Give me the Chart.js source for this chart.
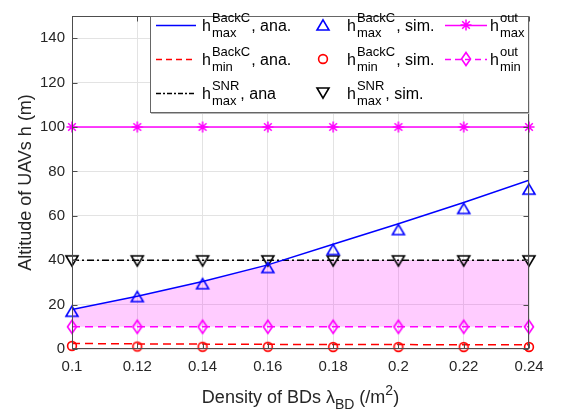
<!DOCTYPE html>
<html><head><meta charset="utf-8">
<script src="https://cdn.jsdelivr.net/npm/chart.js@4.4.0/dist/chart.umd.min.js"></script>
<style>html,body{margin:0;padding:0;background:#fff;}#wrap{width:562px;height:414px;}</style>
</head><body><div id="wrap"><canvas id="c" width="562" height="414"></canvas></div>
<script>
// ---- data ----
const xValues = [0.1, 0.12, 0.14, 0.16, 0.18, 0.2, 0.22, 0.24];
const xTickValues = [0.1, 0.12, 0.14, 0.16, 0.18, 0.2, 0.22, 0.24];
const xTickLabels = ['0.1', '0.12', '0.14', '0.16', '0.18', '0.2', '0.22', '0.24'];
const yTickValues = [0, 20, 40, 60, 80, 100, 120, 140];
const yTickLabels = ['0', '20', '40', '60', '80', '100', '120', '140'];
const backcMaxAna = [17.8, 23.8, 30.4, 37.9, 47.2, 56.4, 66.0, 76.0];
const backcMaxSim = [17.0, 23.6, 29.4, 36.7, 44.8, 53.8, 63.3, 72.0];
const backcMinAna = [2.5, 2.3, 2.2, 2.1, 2.0, 2.0, 1.9, 1.9];
const backcMinSim = [1.4, 1.1, 1.0, 1.0, 0.9, 0.9, 0.9, 0.9];
const snrMaxAna = [40, 40, 40, 40, 40, 40, 40, 40];
const snrMaxSim = [39.7, 39.7, 39.7, 39.7, 39.7, 39.7, 39.7, 39.7];
const outMax = [100, 100, 100, 100, 100, 100, 100, 100];
const outMin = [10, 10, 10, 10, 10, 10, 10, 10];
// upper edge of the shaded region
const fillTopX = [0.1, 0.12, 0.14, 0.16, 0.1645, 0.18, 0.2, 0.22, 0.24];
const fillTopY = [17.8, 23.8, 30.4, 37.9, 40, 40, 40, 40, 40];
const fillBase = 10;

const FONT = '"Liberation Sans", Arial, Helvetica, sans-serif';
const BLUE = '#0000ff', RED = '#ff0000', MAG = '#ff00ff', BLK = '#000000';
const AXIS = '#4d4d4d';
const DASH = [8, 5], DASHDOT = [7, 3, 2, 3];

function xy(xs, ys) { return xs.map((x, i) => ({x: x, y: ys[i]})); }

function mk(fn) {
  const c = document.createElement('canvas');
  c.width = 18; c.height = 18;
  const g = c.getContext('2d');
  g.lineWidth = 1.6; g.lineJoin = 'miter';
  fn(g); return c;
}
const triUp = col => mk(g => { g.strokeStyle = col; g.beginPath(); g.moveTo(9, 3.8); g.lineTo(15, 14); g.lineTo(3, 14); g.closePath(); g.stroke(); });
const triDown = col => mk(g => { g.strokeStyle = col; g.beginPath(); g.moveTo(3, 4); g.lineTo(15, 4); g.lineTo(9, 14.2); g.closePath(); g.stroke(); });
const circ = col => mk(g => { g.strokeStyle = col; g.beginPath(); g.arc(9, 9, 4.4, 0, Math.PI * 2); g.stroke(); });
const diam = col => mk(g => { g.strokeStyle = col; g.beginPath(); g.moveTo(9, 2.5); g.lineTo(13.5, 9); g.lineTo(9, 15.5); g.lineTo(4.5, 9); g.closePath(); g.stroke(); });
const star = col => mk(g => { g.strokeStyle = col; g.lineWidth = 1.5; g.beginPath();
  g.moveTo(9, 3.5); g.lineTo(9, 14.5); g.moveTo(3.5, 9); g.lineTo(14.5, 9);
  g.moveTo(5.2, 5.2); g.lineTo(12.8, 12.8); g.moveTo(12.8, 5.2); g.lineTo(5.2, 12.8); g.stroke(); });

const mTriUp = triUp(BLUE), mCirc = circ(RED), mTriDown = triDown(BLK), mStar = star(MAG), mDiam = diam(MAG);

const decor = {
  id: 'decor',
  afterDraw(chart) {
    const ctx = chart.ctx, a = chart.chartArea;
    const xs = chart.scales.x, ys = chart.scales.y;
    ctx.save();
    // axes box and inward ticks
    ctx.strokeStyle = AXIS; ctx.lineWidth = 1;
    const L = Math.round(a.left) + 0.5, R = Math.round(a.right) - 0.5, T = Math.round(a.top) + 0.5, B = Math.round(a.bottom) - 0.5;
    ctx.strokeRect(L, T, R - L, B - T);
    ctx.beginPath();
    xTickValues.forEach(v => { const px = Math.round(xs.getPixelForValue(v)) + 0.5;
      ctx.moveTo(px, B); ctx.lineTo(px, B - 5); ctx.moveTo(px, T); ctx.lineTo(px, T + 5); });
    yTickValues.forEach(v => { const py = Math.round(ys.getPixelForValue(v)) + 0.5;
      ctx.moveTo(L, py); ctx.lineTo(L + 5, py); ctx.moveTo(R, py); ctx.lineTo(R - 5, py); });
    ctx.stroke();

    // axis titles
    ctx.fillStyle = '#262626'; ctx.textBaseline = 'alphabetic'; ctx.textAlign = 'left';
    const parts = [
      {t: 'Density of BDs ', f: 18, dy: 0},
      {t: '\u03bb', f: 18, dy: 0},
      {t: 'BD', f: 14, dy: 6},
      {t: ' (/m', f: 18, dy: 0},
      {t: '2', f: 14, dy: -8},
      {t: ')', f: 18, dy: 0}
    ];
    let tw = 0;
    parts.forEach(p => { ctx.font = p.f + 'px ' + FONT; p.w = ctx.measureText(p.t).width; tw += p.w; });
    let cx = (a.left + a.right) / 2 - tw / 2;
    const xb = 403;
    parts.forEach(p => { ctx.font = p.f + 'px ' + FONT; ctx.fillText(p.t, cx, xb + p.dy); cx += p.w; });
    ctx.save();
    ctx.translate(31, (a.top + a.bottom) / 2);
    ctx.rotate(-Math.PI / 2);
    ctx.textAlign = 'center';
    ctx.font = '18px ' + FONT;
    ctx.fillText('Altitude of UAVs h (m)', 0, 0);
    ctx.restore();

    // legend
    const lx = 150, lt = Math.round(a.top), lr = Math.round(a.right), lb = 112;
    ctx.fillStyle = '#fff';
    ctx.fillRect(lx, lt, lr - lx, lb - lt);
    ctx.strokeStyle = '#666'; ctx.lineWidth = 1;
    ctx.strokeRect(lx + 0.5, lt + 0.5, lr - lx - 1, lb - lt);
    ctx.strokeStyle = '#b5b5b5';
    ctx.beginPath(); ctx.moveTo(lx + 1, lb + 1.5); ctx.lineTo(lr, lb + 1.5); ctx.stroke();

    const rows = [25, 59, 93];
    function seg(x1, x2, y, col, dash) {
      ctx.save(); ctx.strokeStyle = col; ctx.lineWidth = 1.5; ctx.setLineDash(dash);
      ctx.beginPath(); ctx.moveTo(x1, y + 0.5); ctx.lineTo(x2, y + 0.5); ctx.stroke(); ctx.restore();
    }
    function mark(img, x, y) { ctx.drawImage(img, Math.round(x - 9), Math.round(y - 9)); }
    function label(x, y, sup, sub, suffix) {
      ctx.fillStyle = '#000'; ctx.textAlign = 'left'; ctx.textBaseline = 'alphabetic';
      ctx.font = '16px ' + FONT;
      ctx.fillText('h', x, y + 6);
      const hw = ctx.measureText('h').width;
      ctx.font = '13px ' + FONT;
      ctx.fillText(sup, x + hw + 1, y - 3);
      ctx.fillText(sub, x + hw + 1, y + 12);
      const w = Math.max(ctx.measureText(sup).width, ctx.measureText(sub).width);
      ctx.font = '16px ' + FONT;
      ctx.fillText(suffix, x + hw + 1 + w + 1, y + 6);
    }
    seg(156, 196, rows[0], BLUE, []);
    label(202, rows[0], 'BackC', 'max', ', ana.');
    seg(156, 196, rows[1], RED, [6, 4]);
    label(202, rows[1], 'BackC', 'min', ', ana.');
    seg(156, 196, rows[2], BLK, [5, 2, 2, 2]);
    label(202, rows[2], 'SNR', 'max', ', ana');
    mark(mTriUp, 323, rows[0]);
    label(347, rows[0], 'BackC', 'max', ', sim.');
    mark(mCirc, 323, rows[1]);
    label(347, rows[1], 'BackC', 'min', ', sim.');
    mark(mTriDown, 323, rows[2]);
    label(347, rows[2], 'SNR', 'max', ', sim.');
    seg(445, 487, rows[0], MAG, []);
    mark(mStar, 466, rows[0]);
    label(490, rows[0], 'out', 'max', '');
    seg(445, 487, rows[1], MAG, [6, 4]);
    mark(mDiam, 466, rows[1]);
    label(490, rows[1], 'out', 'min', '');
    ctx.restore();
  }
};

const tickFont = {family: FONT, size: 15};
new Chart(document.getElementById('c'), {
  type: 'line',
  data: {
    datasets: [
      {data: xy(fillTopX, fillTopY), borderWidth: 0, pointRadius: 0, backgroundColor: 'rgba(255,0,255,0.2)', fill: {value: fillBase}, order: 10},
      {data: xy(xValues, outMax), borderColor: MAG, borderWidth: 1.5, pointStyle: mStar, pointRadius: 6, clip: false, order: 5},
      {data: xy(xValues, outMin), borderColor: MAG, borderWidth: 1.5, borderDash: DASH, pointStyle: mDiam, pointRadius: 6, clip: false, order: 5},
      {data: xy(xValues, backcMinAna), borderColor: RED, borderWidth: 1.5, borderDash: DASH, pointRadius: 0, order: 4},
      {data: xy(xValues, backcMinSim), showLine: false, borderColor: RED, pointStyle: mCirc, pointRadius: 6, clip: false, order: 3},
      {data: xy(xValues, snrMaxAna), borderColor: BLK, borderWidth: 1.5, borderDash: DASHDOT, pointRadius: 0, order: 4},
      {data: xy(xValues, snrMaxSim), showLine: false, borderColor: BLK, pointStyle: mTriDown, pointRadius: 6, clip: false, order: 3},
      {data: xy(xValues, backcMaxAna), borderColor: BLUE, borderWidth: 1.5, pointRadius: 0, order: 2},
      {data: xy(xValues, backcMaxSim), showLine: false, borderColor: BLUE, pointStyle: mTriUp, pointRadius: 6, clip: false, order: 1}
    ]
  },
  options: {
    responsive: false, animation: false, devicePixelRatio: 1,
    layout: {padding: {left: 0, right: 33, top: 6, bottom: 0}},
    plugins: {legend: {display: false}, tooltip: {enabled: false}},
    elements: {line: {tension: 0}},
    scales: {
      x: {
        type: 'linear', min: 0.1, max: 0.24,
        grid: {color: '#e3e3e3', drawTicks: false, lineWidth: 1},
        border: {display: false},
        ticks: {font: tickFont, color: '#262626', padding: 9, autoSkip: false, maxRotation: 0,
          callback: v => { const i = xTickValues.findIndex(t => Math.abs(t - v) < 1e-9); return i >= 0 ? xTickLabels[i] : ''; }},
        afterBuildTicks: s => { s.ticks = xTickValues.map(v => ({value: v})); },
        afterFit: s => { s.height = 65; }
      },
      y: {
        type: 'linear', min: 0, max: 150,
        grid: {color: '#e3e3e3', drawTicks: false, lineWidth: 1},
        border: {display: false},
        ticks: {font: tickFont, color: '#262626', padding: 7,
          callback: v => { const i = yTickValues.indexOf(v); return i >= 0 ? yTickLabels[i] : ''; }},
        afterBuildTicks: s => { s.ticks = yTickValues.map(v => ({value: v})); },
        afterFit: s => { s.width = 72; }
      }
    }
  },
  plugins: [decor]
});
</script>
</body></html>
